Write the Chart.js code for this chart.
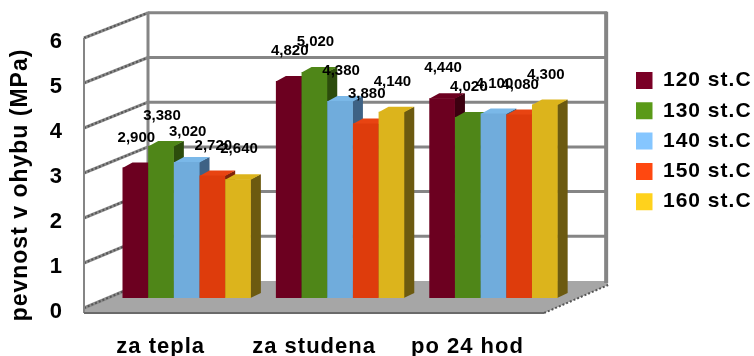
<!DOCTYPE html>
<html>
<head>
<meta charset="utf-8">
<script src="https://cdn.jsdelivr.net/npm/chart.js@4"></script>
<style>
    html, body { margin: 0; background: #fff; }
    canvas { display: block; }
</style>
</head>
<body>
<canvas id="barChart" width="754" height="356"></canvas>
<script>
var categories = ['za tepla', 'za studena', 'po 24 hod'];
var seriesNames = ['120 st.C', '130 st.C', '140 st.C', '150 st.C', '160 st.C'];
var values120 = [2.90, 4.82, 4.44];
var values130 = [3.38, 5.02, 4.02];
var values140 = [3.02, 4.38, 4.10];
var values150 = [2.72, 3.88, 4.08];
var values160 = [2.64, 4.14, 4.30];
var yTicks = [0, 1, 2, 3, 4, 5, 6];
var yTitle = 'pevnost v ohybu (MPa)';

// Barvy: predni stena, bok, vrch, legenda
var frontColors = ['#6c0020', '#4f8618', '#70acdc', '#de3c0c', '#dcb41c'];
var sideColors = ['#3c0010', '#2c4c0c', '#3e6285', '#80240a', '#6c5a10'];
var topColors = ['#6c0020', '#4f8618', '#7ab8e8', '#e84412', '#dcb41c'];
var legendColors = ['#7a0026', '#5a9a18', '#85c6ff', '#ff4810', '#ffd21c'];

var FONT = '"Liberation Sans", Arial, sans-serif';
// Posun zadni steny a predni hrany vuci rovine sloupcu
var BACK_DX = 38, FRONT_DX = -26;
var BAR_DX = 10, BAR_DY = 5;

function polygon(ctx, pts, color) {
    ctx.fillStyle = color;
    ctx.beginPath();
    ctx.moveTo(pts[0][0], pts[0][1]);
    for (var i = 1; i < pts.length; i++) {
        ctx.lineTo(pts[i][0], pts[i][1]);
    }
    ctx.closePath();
    ctx.fill();
}

function line(ctx, x1, y1, x2, y2, color, width, dash) {
    ctx.strokeStyle = color;
    ctx.lineWidth = width;
    ctx.setLineDash(dash || []);
    ctx.beginPath();
    ctx.moveTo(x1, y1);
    ctx.lineTo(x2, y2);
    ctx.stroke();
    ctx.setLineDash([]);
}

var roomPlugin = {
    id: 'room',
    // Texty grafu jsou mirne prostrkane
    beforeUpdate: function (chart) {
        chart.ctx.letterSpacing = '1px';
    },
    beforeDraw: function (chart) {
        chart.ctx.letterSpacing = '1px';
    },
    // Zadni stena, bocni stena a podlaha
    beforeDatasetsDraw: function (chart) {
        var ctx = chart.ctx, area = chart.chartArea, y = chart.scales.y;
        var backL = area.left + BACK_DX, backR = area.right + BACK_DX - 1;
        var frontL = area.left + FRONT_DX, frontR = area.right + FRONT_DX;
        var base = y.getPixelForValue(0);
        var wallY = function (v) { return base - 17 - (base - y.getPixelForValue(v)) * 44.7 / 45; };
        var sideY = function (v) { return y.getPixelForValue(v) + 10; };
        ctx.save();
        polygon(ctx, [[frontL, sideY(0)], [backL, wallY(0)], [backR, wallY(0)], [backR + 1, wallY(0) + 4],
            [frontR, base + 15], [frontL, base + 15]], '#a6a6a6');
        yTicks.forEach(function (v) {
            if (v > 0) {
                line(ctx, backL, wallY(v), backR, wallY(v), '#858585', 3);
            }
            line(ctx, frontL, sideY(v), backL, wallY(v), '#8c8c8c', 3);
            line(ctx, frontL, sideY(v), backL, wallY(v), '#555', 2, [2, 2]);
        });
        line(ctx, backL, wallY(6) - 1, backL, wallY(0), '#858585', 3);
        line(ctx, backR - 1, wallY(6) - 1, backR - 1, wallY(0) + 2, '#858585', 4);
        line(ctx, frontL, sideY(6), frontL, base + 15, '#858585', 2);
        line(ctx, frontL, base + 15, frontR, base + 15, '#6a6a6a', 2);
        line(ctx, frontR, base + 15, backR + 1, wallY(0) + 4, '#555', 2, [2, 2]);

        // Serie zleva doprava: bok a vrch pred celem, dalsi sloupec je prekryje
        chart.data.datasets.forEach(function (ds, i) {
            var meta = chart.getDatasetMeta(i);
            meta.data.forEach(function (bar) {
                var l = bar.x - bar.width / 2, r = bar.x + bar.width / 2;
                polygon(ctx, [[r - 0.5, bar.y], [r + BAR_DX, bar.y - BAR_DY], [r + BAR_DX, bar.base - BAR_DY], [r - 0.5, bar.base]], sideColors[i]);
                polygon(ctx, [[l, bar.y + 0.5], [l + BAR_DX, bar.y - BAR_DY], [r + BAR_DX, bar.y - BAR_DY], [r, bar.y + 0.5]], topColors[i]);
            });
            meta.controller.draw();
        });
        ctx.restore();
    },
    // Sloupce uz jsou nakreslene vyse
    beforeDatasetDraw: function () {
        return false;
    },
    afterDatasetsDraw: function (chart) {
        var ctx = chart.ctx;
        ctx.save();
        ctx.fillStyle = '#000';
        ctx.textAlign = 'center';
        ctx.textBaseline = 'middle';

        // Popis osy y je vycentrovany na celou vysku vcetne podlahy
        ctx.save();
        ctx.font = 'bold 23px ' + FONT;
        ctx.translate(21, 185);
        ctx.rotate(-Math.PI / 2);
        ctx.fillText(yTitle, 0, 0);
        ctx.restore();

        // Popisky hodnot nad sloupci
        ctx.letterSpacing = '0px';
        ctx.font = 'bold 15px ' + FONT;
        chart.data.datasets.forEach(function (ds, i) {
            chart.getDatasetMeta(i).data.forEach(function (bar, j) {
                ctx.fillText(ds.data[j].toFixed(3).replace('.', ','), bar.x + 1, bar.y - 30);
            });
        });
        ctx.restore();
    },
    afterLayout: function (chart) {
        var legend = chart.legend;
        legend.left = 636 - legend.options.labels.padding;
        legend.right = 754;
        legend.top = 60.7;
        legend.bottom = 356;
    }
};

var allValues = [values120, values130, values140, values150, values160];

new Chart(document.getElementById('barChart').getContext('2d'), {
    type: 'bar',
    data: {
        labels: categories,
        datasets: seriesNames.map(function (name, i) {
            return {
                label: name,
                data: allValues[i],
                backgroundColor: frontColors[i]
            };
        })
    },
    options: {
        responsive: false,
        animation: false,
        layout: { padding: { top: 28, left: 0, right: 49, bottom: 0 } },
        datasets: { bar: { barPercentage: 1, categoryPercentage: 0.837 } },
        scales: {
            x: {
                grid: { display: false, drawTicks: false },
                border: { display: false },
                afterFit: function (scale) { scale.height = 58; },
                ticks: {
                    labelOffset: -26,
                    padding: 36,
                    maxRotation: 0,
                    autoSkip: false,
                    color: '#000',
                    font: { family: FONT, size: 22, weight: 'bold' }
                }
            },
            y: {
                min: 0,
                max: 6,
                grid: { display: false, drawTicks: false },
                border: { display: false },
                afterFit: function (scale) {
                    scale.width = 110;
                    scale.paddingTop = 0;
                    scale.paddingBottom = 0;
                },
                ticks: {
                    stepSize: 1,
                    padding: 47,
                    labelOffset: 14,
                    color: '#000',
                    font: { family: FONT, size: 22, weight: 'bold' }
                }
            }
        },
        plugins: {
            tooltip: { enabled: false },
            legend: {
                position: 'right',
                align: 'start',
                labels: {
                    boxWidth: 16.5,
                    boxHeight: 17,
                    padding: 9.3,
                    color: '#000',
                    font: { family: FONT, size: 21, weight: 'bold' },
                    generateLabels: function () {
                        return seriesNames.map(function (name, i) {
                            return { text: name, fillStyle: legendColors[i], strokeStyle: legendColors[i], lineWidth: 0, datasetIndex: i };
                        });
                    }
                }
            }
        }
    },
    plugins: [roomPlugin]
});
</script>
</body>
</html>
